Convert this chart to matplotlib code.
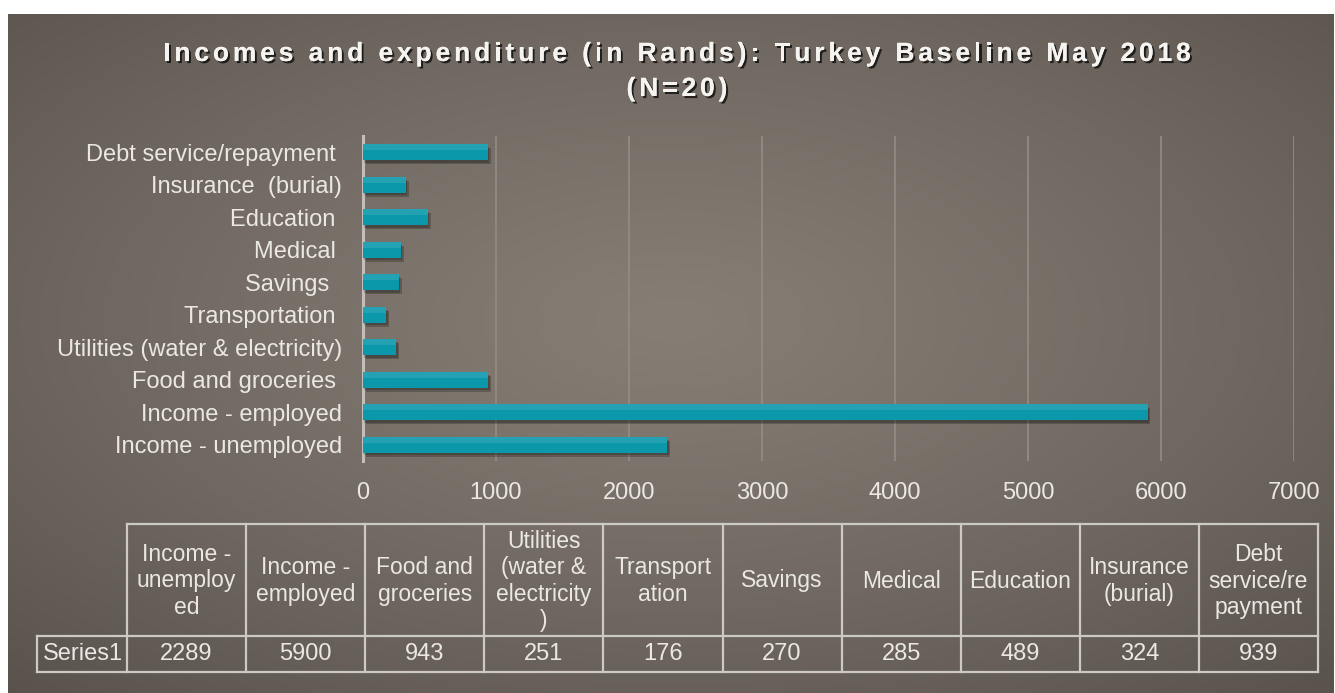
import numpy as np
import matplotlib
matplotlib.use("Agg")
import matplotlib.pyplot as plt
import matplotlib.patheffects as pe

# ---- data ----
categories = ["Income - unemployed", "Income - employed", "Food and groceries ",
              "Utilities (water & electricity)", "Transportation ", "Savings  ",
              "Medical ", "Education ", "Insurance  (burial)", "Debt service/repayment "]
values = [2289, 5900, 943, 251, 176, 270, 285, 489, 324, 939]
table_headers = ["Income -\nunemploy\ned", "Income -\nemployed", "Food and\ngroceries",
                 "Utilities\n(water &\nelectricity\n)", "Transport\nation", "Savings",
                 "Medical", "Education", "Insurance\n(burial)", "Debt\nservice/re\npayment"]
series_name = "Series1"
xticks = [0, 1000, 2000, 3000, 4000, 5000, 6000, 7000]
title_lines = ["Incomes and expenditure (in Rands): Turkey Baseline May 2018", "(N=20)"]

W, H = 1335, 693
TXT = "#ebe8e4"
FS = 17
plt.rcParams['font.family'] = ['Liberation Sans', 'DejaVu Sans']

fig = plt.figure(figsize=(W / 100, H / 100), dpi=100)
fig.patch.set_facecolor("white")

# background radial gradient
bg = fig.add_axes([8 / W, 0, 1 - 9 / W, 1 - 14 / H])
bg.set_axis_off()
yy, xx = np.mgrid[0:300, 0:600]
cx, cy = 600 * 0.50, 300 * 0.45
r = np.sqrt(((xx - cx) / 600) ** 2 + ((yy - cy) / 300) ** 2)
r = np.clip(r / 0.78, 0, 1) ** 1.2
c_in = np.array([0x86, 0x7e, 0x75]) / 255
c_out = np.array([0x57, 0x50, 0x4a]) / 255
img = c_in[None, None, :] * (1 - r[..., None]) + c_out[None, None, :] * r[..., None]
bg.imshow(img, aspect="auto", extent=[0, 1, 0, 1], interpolation="bilinear")

# main bar axes
ax = fig.add_axes([363 / W, 1 - 461 / H, (1294 - 363) / W, (461 - 136) / H])
ax.patch.set_alpha(0)
y = np.arange(len(categories))
bars = ax.barh(y, values, height=0.49, color="#0b98aa", zorder=3)
for b in bars:
    b.set_path_effects([pe.withSimplePatchShadow(offset=(2, -3), shadow_rgbFace="black", alpha=0.22),
                        pe.withSimplePatchShadow(offset=(1, -2), shadow_rgbFace="black", alpha=0.2),
                        pe.Normal()])
# lighter top sheen of each bar
ax.barh(y + 0.49 * 0.32, values, height=0.49 * 0.36, color="#3aabbb", alpha=0.55, zorder=4)
ax.set_xlim(0, 7000)
ax.set_ylim(-0.5, len(categories) - 0.5)
ax.set_xticks(xticks)
ax.set_xticklabels([str(t) for t in xticks], color=TXT, fontsize=FS)
ax.set_yticks(y)
ax.set_yticklabels(categories, color=TXT, fontsize=FS)
ax.tick_params(axis="x", length=0, pad=15)
ax.tick_params(axis="y", length=0, pad=15)
ax.grid(axis="x", color="#958d85", linewidth=1.2, zorder=0)
for s in ["top", "right", "bottom"]:
    ax.spines[s].set_visible(False)
ax.spines["left"].set_color("#c4beb8")
ax.spines["left"].set_linewidth(2.2)

# title with letter spacing, drawn char by char
renderer = fig.canvas.get_renderer()
title_kw = dict(color="#f6f4f1", fontsize=19, fontweight="bold", va="center", ha="left",
                path_effects=[pe.withSimplePatchShadow(offset=(1.5, -1.5), shadow_rgbFace="black", alpha=0.7),
                              pe.Normal()])
spacing = 3.9
for line, yc in zip(title_lines, [54, 89]):
    widths = []
    for ch in line:
        if ch == " ":
            t = fig.text(0, 0, "a a", **title_kw)
            w_aa = t.get_window_extent(renderer).width
            t.set_text("aa")
            w = w_aa - t.get_window_extent(renderer).width
            t.remove()
        else:
            t = fig.text(0, 0, ch, **title_kw)
            w = t.get_window_extent(renderer).width
            t.remove()
        widths.append(w)
    total = sum(widths) + spacing * (len(line) - 1)
    x = 677 - total / 2
    for ch, w in zip(line, widths):
        if ch != " ":
            fig.text(x / W, 1 - yc / H, ch, **title_kw)
        x += w + spacing

# data table drawn in pixel coordinates
tb = fig.add_axes([0, 0, 1, 1])
tb.set_xlim(0, W)
tb.set_ylim(H, 0)
tb.set_axis_off()
tb.patch.set_alpha(0)
LC = "#cdc9c4"
lw = 1.6
col_x = np.linspace(127, 1318, len(values) + 1)
top, mid, bot = 524, 636, 672
tb.plot([col_x[0], col_x[-1]], [top, top], color=LC, lw=lw)
tb.plot([37, col_x[-1]], [mid, mid], color=LC, lw=lw)
tb.plot([37, col_x[-1]], [bot, bot], color=LC, lw=lw)
tb.plot([37, 37], [mid, bot], color=LC, lw=lw)
for xv in col_x:
    tb.plot([xv, xv], [top, bot], color=LC, lw=lw)
tb.text((37 + 127) / 2 + 1, (mid + bot) / 2, series_name, ha="center", va="center", color=TXT, fontsize=FS)
for i, (h, v) in enumerate(zip(table_headers, values)):
    xc = (col_x[i] + col_x[i + 1]) / 2
    tb.text(xc, (top + mid) / 2 + 1, h, ha="center", va="center", color=TXT, fontsize=FS - 0.5,
            linespacing=1.18)
    tb.text(xc, (mid + bot) / 2, str(v), ha="center", va="center", color=TXT, fontsize=FS)

fig.savefig("out.png", dpi=100, facecolor=fig.get_facecolor())
